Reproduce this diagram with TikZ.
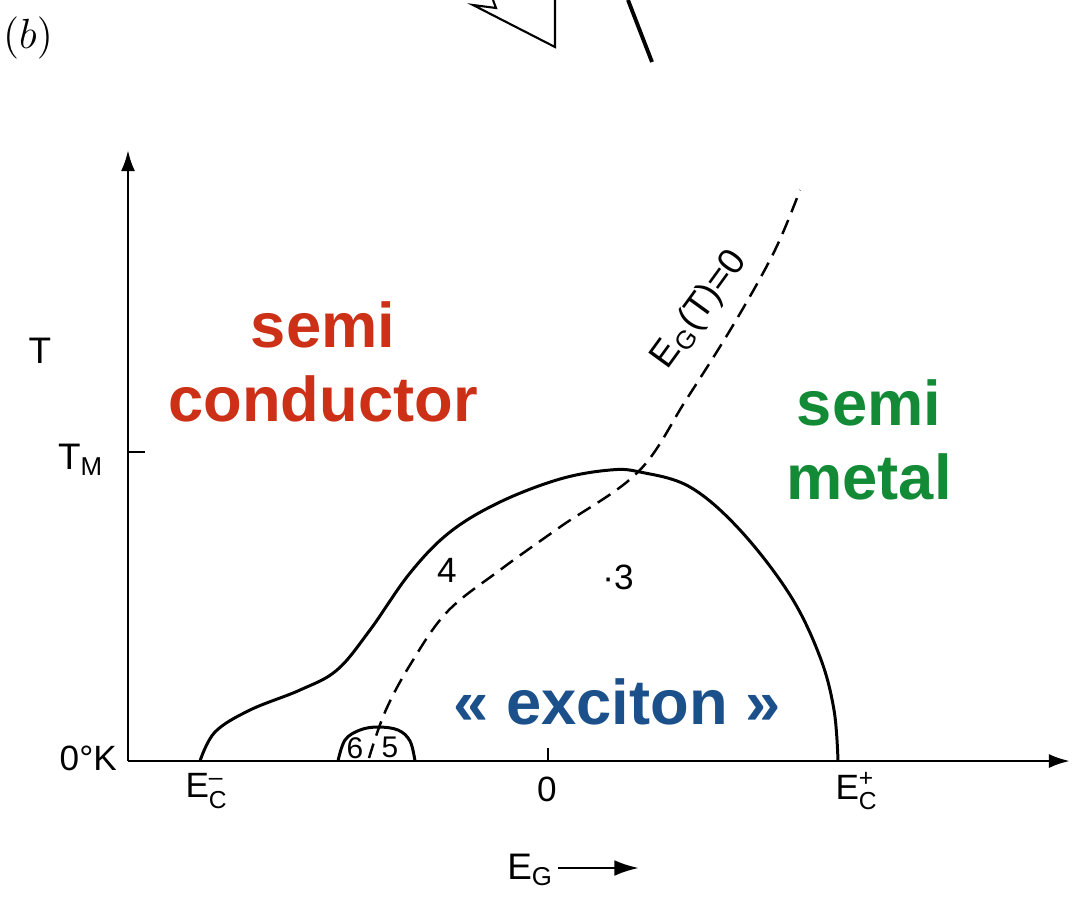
\documentclass[tikz,border=0pt]{standalone}
\usepackage[no-math]{fontspec}
\setmainfont{Liberation Sans}
\usetikzlibrary{arrows.meta}
\definecolor{semired}{RGB}{204,48,22}
\definecolor{semigreen}{RGB}{18,138,54}
\definecolor{excblue}{RGB}{27,80,138}
\begin{document}
\begin{tikzpicture}[
        x=0.1mm, y=-0.1mm,
        every node/.style={inner sep=1pt, font=\fontsize{10}{11}\selectfont},
        region/.style={font=\bfseries\fontsize{18}{21}\selectfont, align=center},
        axis/.style={line width=0.8pt, -{Latex[length=6pt,width=4pt]}},
        boundary/.style={line width=0.85pt, line join=round},
        gapline/.style={line width=0.7pt, dash pattern=on 4.3pt off 2.4pt}
    ]
        \useasboundingbox (0,0) rectangle (1079,902);

        % edge of the neighbouring figure
        \draw[line width=0.6pt, line join=miter] (493,0) -- (496,8) -- (473,5) -- (555,47) -- (555,0);
        \draw[line width=1.1pt] (628,0) -- (652,62);
        \node[font=\fontsize{13}{15}\selectfont] (panel) at (28,38) {$(b)$};

        % axes
        \coordinate (origin) at (128,761);
        \coordinate (ytip) at (128,150);
        \coordinate (xtip) at (1070,761);
        \draw[axis] (origin) -- (ytip);
        \draw[axis] (origin) -- (xtip);
        \draw[line width=0.6pt] (128,452) -- (145,452);
        \draw[line width=0.6pt] (548,748) -- (548,761);

        \node[font=\fontsize{10.5}{12}\selectfont] (tlab) at (40,351) {T};
        \node[font=\fontsize{10.5}{12}\selectfont] (tm) at (81,460) {T\textsubscript{M}};
        \node[anchor=east] (zero) at (121,758) {0°K};
        \node (ecm) at (207,791) {E$_{\mbox{\scriptsize C}}^{\mbox{\scriptsize --}}$};
        \node (eg0) at (547,789) {0};
        \node (ecp) at (857,791) {E$_{\mbox{\scriptsize C}}^{\mbox{\scriptsize +}}$};
        \node[anchor=east, font=\fontsize{10.5}{12}\selectfont] (eg) at (558,870) {E\textsubscript{G}};
        \coordinate (egtip) at (639,868);
        \draw[line width=0.8pt, -{Latex[length=7pt,width=4.5pt]}] (eg.east |- egtip) -- (egtip);

        % phase boundary
        \draw[boundary] plot[smooth, tension=0.6] coordinates {
            (200,761) (215,732) (250,710) (300,690) (337,670) (370,630)
            (410,573) (450,532) (500,502) (560,479) (610,470) (640,472)
            (690,487) (740,530) (790,595) (820,657) (834,710) (838,761)};
        \draw[boundary] plot[smooth, tension=0.6] coordinates {
            (338,761) (345,740) (360,730) (378,727) (398,730) (410,741) (415,761)};

        % E_G(T)=0
        \draw[gapline] plot[smooth, tension=0.6] coordinates {
            (369,758) (385,712) (410,665) (447,612) (500,570) (560,527)
            (638,472) (686,400) (735,322) (775,250) (800,190)};
        \node[rotate=54, font=\fontsize{10.5}{12}\selectfont] (egzero) at (700,310) {E\textsubscript{G}(T)=0};

        \node (four) at (447,570) {4};
        \node (three) at (618,577) {·3};
        \node[font=\fontsize{8.5}{9}\selectfont] (six) at (355,748) {6};
        \node[font=\fontsize{8.5}{9}\selectfont] (five) at (390,747) {5};

        % regions
        \node[region, text=semired] (semicond) at (323,362) {semi\\conductor};
        \node[region, text=semigreen] (semimet) at (869,440) {semi\\metal};
        \node[region, text=excblue] (exciton) at (617,702) {« exciton »};
    \end{tikzpicture}
\end{document}
